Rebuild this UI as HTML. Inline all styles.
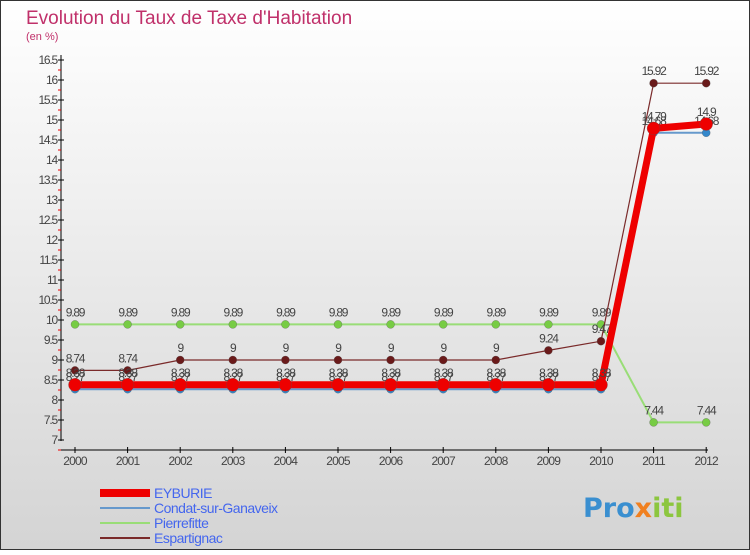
<!DOCTYPE html>
<html><head><meta charset="utf-8"><style>
body{margin:0;width:750px;height:550px;overflow:hidden;font-family:"Liberation Sans",sans-serif}
</style></head><body>
<svg width="750" height="550" xmlns="http://www.w3.org/2000/svg">
<defs><linearGradient id="bg" x1="0" y1="0" x2="0" y2="1"><stop offset="0" stop-color="#ffffff"/><stop offset="1" stop-color="#d4d4d4"/></linearGradient></defs>
<rect x="0.5" y="0.5" width="749" height="549" fill="url(#bg)" stroke="#333"/>
<text x="26" y="24" font-size="19" fill="#c0306a">Evolution du Taux de Taxe d'Habitation</text>
<text x="26" y="40" font-size="11" fill="#c0306a">(en %)</text>
<g id="axes"></g>
<g id="series"></g>
<g id="legend"></g>
<text x="583" y="517" font-size="27" font-weight="bold" font-family="DejaVu Sans, sans-serif"><tspan fill="#3a8fd0">Pro</tspan><tspan fill="#f08020">x</tspan><tspan fill="#8cc63f">iti</tspan></text>
</svg>
<script>
const years=["2000","2001","2002","2003","2004","2005","2006","2007","2008","2009","2010","2011","2012"];
const eyburie=[8.38,8.38,8.38,8.38,8.38,8.38,8.38,8.38,8.38,8.38,8.38,14.79,14.9];
const condat=[8.27,8.27,8.27,8.27,8.27,8.27,8.27,8.27,8.27,8.27,8.27,14.68,14.68];
const pierrefitte=[9.89,9.89,9.89,9.89,9.89,9.89,9.89,9.89,9.89,9.89,9.89,7.44,7.44];
const espartignac=[8.74,8.74,9,9,9,9,9,9,9,9.24,9.47,15.92,15.92];
const yTicks=[7,7.5,8,8.5,9,9.5,10,10.5,11,11.5,12,12.5,13,13.5,14,14.5,15,15.5,16,16.5];
const NS="http://www.w3.org/2000/svg";
const X=i=>75+i*52.6, Y=v=>440-(v-7)*40;
function mk(t,a,p){const e=document.createElementNS(NS,t);for(const k in a)e.setAttribute(k,a[k]);p.appendChild(e);return e;}
const ax=document.getElementById('axes');
let l=mk('line',{x1:61,y1:55,x2:61,y2:441,stroke:'#000'},ax);


l=mk('line',{x1:61,y1:450,x2:708,y2:450,stroke:'#000'},ax);


yTicks.forEach(v=>{const y=Y(v);
 mk('line',{x1:58,y1:y,x2:64,y2:y,stroke:'#000'},ax);
 mk('line',{x1:58,y1:y+10,x2:61,y2:y+10,stroke:'#e00'},ax);
 const t=mk('text',{x:57,y:y+4,'font-size':12,'text-anchor':'end',fill:'#444','letter-spacing':'-1.2'},ax);t.textContent=String(v);
 
 });
years.forEach((yr,i)=>{mk('line',{x1:X(i),y1:447,x2:X(i),y2:453,stroke:'#000'},ax);
 const t=mk('text',{x:X(i),y:465,'font-size':12,'text-anchor':'middle',fill:'#444','letter-spacing':'-0.8'},ax);t.textContent=yr;
 
 });
const sg=document.getElementById('series');
function series(name,data,color,w,r,dot){
 const g=mk('g',{},sg);
 
 
 mk('polyline',{points:data.map((v,i)=>X(i)+','+Y(v)).join(' '),fill:'none',stroke:color,'stroke-width':w,'stroke-linejoin':'round'},g);
 data.forEach((v,i)=>{const c=mk('circle',{cx:X(i),cy:Y(v),r:r,fill:dot,stroke:'#555','stroke-width':0.3},g);
  
  
  const t=mk('text',{x:X(i),y:Y(v)-8,'font-size':12,'text-anchor':'middle',fill:'#444','letter-spacing':'-1.2'},g);t.textContent=String(v);
  
  });
}
series('pierrefitte',pierrefitte,'#99dd77',2,4,'#77cc44');
series('espartignac',espartignac,'#7a2a2a',1.2,4,'#6a1a1a');
series('condat',condat,'#6699cc',2,4,'#3388cc');
series('eyburie',eyburie,'#ee0000',7,6.5,'#ee0000');
const lg=document.getElementById('legend');
const items=[['EYBURIE','#ee0000',8],['Condat-sur-Ganaveix','#6699cc',2],['Pierrefitte','#99dd77',2],['Espartignac','#7a2a2a',2]];
items.forEach((it,k)=>{const y=493+k*15;
 mk('line',{x1:100,y1:y,x2:150,y2:y,stroke:it[1],'stroke-width':it[2]},lg);
 const t=mk('text',{x:154,y:y+5,'font-size':14,fill:'#4466ee','letter-spacing':'-0.5'},lg);t.textContent=it[0];
 
 });
</script>
</body></html>
